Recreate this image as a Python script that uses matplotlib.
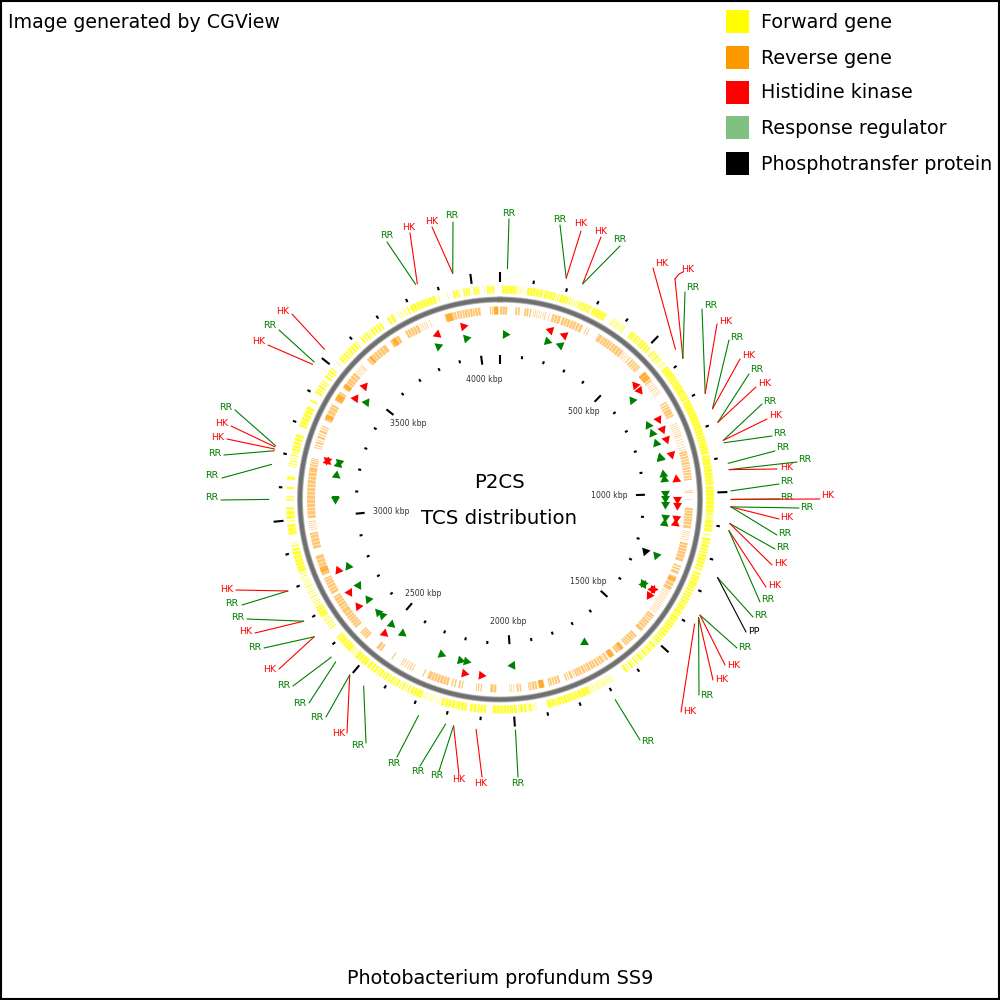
import numpy as np
import matplotlib
matplotlib.use('Agg')
import matplotlib.pyplot as plt
from matplotlib.patches import Rectangle

GENOME_KBP = 4085

# Forward strand genes (start, end in kbp)
forward_genes = [
    (6,13),(14,22),(23,30),(31,40),(41,46),(47,52),(56,58),(62,63.5),(68,70),
    (84,92),(93,101),(102,110),(112,120),(122,133),(138,146),(148,153),(155,163),(165,172),(176,178),(181,185),
    (188,196),(197,206),(208,214),(218,222),(226,229),(234,236),(240,242),(246,249),
    (252,258),(260,266),(268,274),(276,282),(284,289),(295,303),(304,312),(313,322),(323,331),(332,340),
    (362,364),(367,370),(374,376),(380,383),(387,389),(393,395),(400,403),(406,409),
    (432,440),(441,448),(452,460),(463,468),(472,480),(482,490),(493,500),(503,509),
    (520,527),(530,534),(538,545),(549,552),(555,558),(565,567),(570,573),
    (583,591),(592,600),(601,609),(610,618),(620,628),(629,636),(638,645),(647,656),(657,665),(667,675),(676,684),(686,693),(694,702),
    (706,716),(717,726),(727,737),(738,748),(749,758),(759,768),(769,778),(779,789),(790,800),
    (802,811),(812,820),(822,831),(832,840),(842,850),(851,860),(861,870),(871,880),
    (885,894),(895,905),(906,914),(916,925),(926,936),(938,947),(948,957),(958,966),(968,976),
    (980,990),(991,1000),(1001,1012),(1013,1024),(1025,1036),(1037,1048),(1050,1060),(1062,1068),(1071,1074),(1077,1081),(1084,1095),(1097,1108),(1110,1120),
    (1128,1131),(1140,1150),(1152,1158),(1161,1170),(1173,1180),(1183,1189),(1192,1200),(1202,1212),(1214,1222),(1225,1233),(1236,1242),
    (1250,1258),(1261,1268),(1270,1278),(1280,1294),(1296,1302),(1305,1313),(1316,1322),(1325,1332),(1335,1342),(1345,1352),(1354,1360),
    (1362,1370),(1372,1378),(1381,1390),(1392,1398),(1401,1410),(1412,1420),(1423,1431),(1433,1442),(1444,1450),(1453,1462),(1464,1472),(1474,1480),
    (1484,1490),(1493,1500),(1504,1507),(1511,1520),(1523,1527),(1530,1538),(1541,1544),(1548,1556),(1560,1563),(1567,1575),(1579,1582),(1586,1592),(1597,1600),(1604,1612),(1617,1620),(1625,1634),
    (1680,1682),(1686,1688),(1693,1695),(1700,1702),(1707,1710),(1714,1716),(1720,1722),(1727,1730),(1735,1737),(1742,1745),(1750,1752),(1755,1758),
    (1760,1770),(1771,1782),(1784,1795),(1797,1804),(1806,1812),(1814,1822),(1824,1830),(1832,1842),(1844,1850),(1852,1860),(1862,1868),(1870,1880),(1883,1895),
    (1930,1932),(1936,1938),(1944,1952),(1954,1956),(1960,1968),(1971,1980),(1983,1986),(1990,2000),(2002,2012),(2014,2020),(2022,2032),(2034,2042),
    (2044,2052),(2053,2065),(2085,2093),(2095,2103),(2106,2112),(2115,2124),(2127,2136),
    (2145,2153),(2155,2164),(2166,2174),(2176,2180),(2183,2192),(2195,2203),(2205,2213),(2216,2225),
    (2232,2233.5),(2240,2241.5),(2249,2250.5),(2256,2258),(2264,2265.5),(2272,2273.5),(2278,2280),
    (2288,2297),(2298,2306),(2308,2316),(2318,2326),(2330,2336),(2341,2344),(2348,2356),(2361,2364),(2369,2376),(2380,2385),
    (2388,2396),(2399,2404),(2408,2416),(2419,2424),(2428,2436),(2439,2444),(2448,2456),(2459,2466),(2470,2480),
    (2485,2494),(2495,2504),(2506,2514),(2516,2528),(2532,2534),(2538,2540),(2544,2547),
    (2551,2560),(2561,2570),(2572,2580),(2582,2591),(2593,2600),(2602,2609),
    (2640,2644),(2649,2652),(2657,2661),(2667,2670),(2673,2676),(2683,2692),(2693,2702),(2704,2712),(2714,2720),
    (2726,2729),(2734,2737),(2742,2744),(2750,2754),(2760,2762),(2768,2771),(2777,2779),(2785,2789),(2795,2797),(2803,2806),(2812,2814),(2820,2823),(2830,2833),
    (2837,2846),(2847,2856),(2858,2866),(2868,2878),(2880,2890),(2892,2902),(2904,2912),(2918,2922),(2928,2930),
    (2955,2965),(2966,2976),(2978,2988),(2996,2999),(3004,3014),(3016,3028),(3032,3040),(3060,3065),(3070,3074),
    (3096,3103),(3125,3135),(3165,3168),(3172,3176),(3181,3185),(3190,3193),(3198,3202),(3207,3210),(3214,3222),
    (3224,3232),(3235,3243),(3246,3254),(3257,3267),(3291,3299),(3301,3310),(3312,3322),(3324,3334),(3336,3346),(3348,3358),
    (3374,3380),(3404,3412),(3415,3420),(3424,3432),(3436,3440),(3444,3449),(3460,3468),(3472,3476),(3480,3488),(3491,3495),(3517,3519),
    (3530,3537),(3540,3546),(3549,3556),(3559,3564),(3568,3576),(3579,3586),(3590,3597),(3600,3605),
    (3620,3627),(3631,3636),(3640,3648),(3651,3654),(3660,3668),(3671,3678),(3682,3689),(3692,3699),
    (3722,3730),(3734,3744),(3759,3761),(3766,3768),(3774,3776),(3781,3784),(3790,3795),
    (3801,3809),(3810,3820),(3822,3830),(3832,3840),(3842,3850),(3852,3860),(3862,3872),(3874,3883),(3892,3895),(3921,3923),
    (3939,3946),(3949,3955),(3957,3960),(3971,3977),(3979,3985),(3987,3992),(4002,4008),(4010,4015),(4017,4021),(4035,4037),
    (4044,4050),(4052,4058),(4060,4067),
]

# Reverse strand genes (start, end in kbp)
reverse_genes = [
    (0,8),(9,17),(18,25),(53,59),(62,68),(84,90),(92,98),(102,107),(115,117),(121,123),(127,129),(134,136),(141,143),(149,151),(155,158),(168,170),
    (180,188),(190,198),(200,210),(215,224),(226,234),(236,245),(248,256),(258,266),(269,278),(281,290),(303,306),(312,315),(355,365),
    (350,354),(368,376),(378,386),(388,396),(398,405),(408,416),(418,428),(430,440),(442,450),(452,454),(458,460),(465,467),(472,474),(480,484),
    (490,497),(500,506),(509,515),(518,524),(526,530),(550,560),(561,570),(572,582),(584,590),(594,596),(601,603),(608,610),(615,618),(624,626),(632,634),(638,640),
    (675,680),(684,690),(693,700),(702,712),(713,722),(724,730),(755,757),(762,764),(769,771),(776,778),(783,785),(790,792),(796,799),
    (803,805),(812,814),(821,823),(830,832),(840,842),(848,850),
    (855,862),(864,870),(873,880),(883,889),(892,900),(903,908),(911,918),(921,927),(930,937),(940,946),(949,955),(990,993),(996,999),(1020,1021.5),
    (1050,1058),(1060,1067),(1069,1078),(1080,1086),(1088,1097),(1099,1107),(1110,1120),
    (1130,1132),(1136,1138),(1143,1145),(1150,1152),(1158,1160),(1170,1178),(1180,1188),(1190,1199),(1201,1210),(1212,1222),(1224,1235),
    (1250,1256),(1260,1266),(1270,1280),(1290,1300),(1302,1312),(1314,1325),(1327,1340),
    (1345,1347),(1351,1353),(1358,1360),(1365,1367),(1372,1374),(1379,1381),(1386,1388),(1393,1395),(1400,1402),(1407,1409),(1414,1416),(1421,1423),(1428,1430),
    (1440,1447),(1449,1456),(1459,1464),(1467,1476),(1478,1484),(1486,1494),(1497,1510),
    (1530,1538),(1540,1546),(1548,1556),(1558,1564),(1566,1572),(1574,1580),(1590,1600),(1601,1612),(1613,1620),
    (1630,1640),(1641,1650),(1655,1662),(1665,1668),(1671,1680),(1682,1688),(1691,1700),(1703,1710),(1712,1720),(1723,1732),(1735,1740),(1743,1752),(1755,1762),(1764,1770),
    (1772,1778),(1782,1785),(1790,1798),(1803,1806),(1810,1815),(1835,1842),(1845,1852),(1855,1860),(1863,1869),(1871,1875),
    (1890,1910),(1915,1922),(1924,1932),(1935,1940),(1942,1945),(1970,1975),(1979,1985),(1995,1997),(2002,2004),(2008,2010),
    (2055,2063),(2065,2075),(2105,2109),(2114,2118),(2122,2125),(2170,2174),(2179,2185),(2195,2200),(2205,2210),
    (2220,2228),(2230,2238),(2240,2250),(2252,2260),(2262,2270),(2272,2280),(2282,2295),(2308,2312),
    (2350,2353),(2358,2362),(2367,2370),(2376,2379),(2385,2388),(2392,2395),(2428,2432),(2475,2482),(2485,2495),
    (2540,2547),(2549,2555),(2557,2563),(2565,2570),(2590,2598),(2600,2608),(2610,2618),(2620,2628),(2630,2638),(2640,2650),
    (2660,2668),(2670,2678),(2680,2690),(2692,2700),(2702,2712),(2714,2720),(2730,2740),(2742,2750),(2752,2762),(2764,2772),(2774,2782),(2784,2790),
    (2800,2810),(2811,2820),(2822,2832),(2833,2842),(2844,2855),(2857,2870),
    (2895,2905),(2907,2917),(2919,2930),(2932,2941),(2943,2950),(2960,2962),(2967,2969),(2974,2976),(2981,2983),(2987,2990),
    (3000,3010),(3012,3024),(3026,3036),(3038,3050),(3052,3064),(3066,3078),(3080,3090),(3092,3104),(3106,3116),(3118,3130),(3132,3142),(3144,3156),(3158,3175),
    (3178,3184),(3187,3192),(3195,3199),(3202,3205),(3240,3243),(3248,3252),(3257,3263),(3267,3270),(3275,3283),(3287,3291),(3296,3304),(3308,3312),(3316,3320),
    (3340,3352),(3353,3364),(3366,3378),(3380,3390),(3392,3400),(3415,3424),(3425,3433),(3435,3443),(3444,3450),
    (3465,3474),(3475,3484),(3486,3495),(3496,3506),(3508,3518),(3520,3530),(3535,3537),(3542,3544),(3549,3551),(3556,3558),(3562,3565),
    (3590,3598),(3600,3610),(3612,3620),(3622,3632),(3634,3643),(3645,3655),(3657,3670),(3690,3700),(3701,3713),(3714,3725),
    (3750,3758),(3760,3768),(3770,3778),(3780,3788),(3790,3800),(3806,3808),(3813,3815),(3820,3822),(3827,3829),(3840,3842),
    (3895,3905),(3906,3915),(3916,3925),(3927,3934),(3937,3944),(3946,3953),(3956,3962),(3964,3972),(3974,3980),(3982,3990),(3992,3998),(4000,4008),(4010,4018),
    (4050,4054),(4057,4060),(4062,4080),
]

# Where reverse genes overlap, the ring goes full orange
reverse_overlap = [(552,562),(565,578),(1296,1306),(1592,1602),(1632,1646),(1892,1908),(2075,2076),
                   (2652,2660),(2810,2826),(3348,3360),(3420,3440),(3470,3482),(3600,3610),(3698,3712),(3900,3920),(4066,4078)]

# Two component system features: position in kbp, +1 forward, -1 reverse
hk_kbp = [186,242,565,588,715,755,795,852,944,1019,1042,1088,1109,1366,1368,1390,
          2112,2175,2509,2645,2707,2797,3206,3210,3463,3517,3850,3948]
hk_strand = [-1,-1,-1,1,1,1,1,1,-1,1,1,1,-1,1,-1,1,
             -1,-1,-1,1,-1,1,1,-1,1,1,-1,1]
rr_kbp = [19,186,243,600,716,753,795,853,857,920,942,995,1017,1039,1089,1112,1243,1364,1368,1695,1997,
          2177,2200,2281,2456,2509,2560,2579,2643,2710,2795,3064,3159,3205,3213,3471,3835,3949]
rr_strand = [1,1,-1,-1,-1,-1,-1,-1,-1,-1,-1,1,1,1,1,-1,1,1,-1,1,1,
             -1,-1,-1,-1,-1,1,1,1,-1,1,-1,1,1,-1,1,1,1]
pp_kbp = [1241]
pp_strand = [1]

# Callouts: feature position and label, clockwise from the top
callout_kbp = [21,189,189,238,238,561,594,594,711,711,759,759,800,800,853,853,860,919,937,937,997,1021,1021,1042,1042,1042,
               1089,1089,1109,1109,1245,1245,1362,1362,1370,1370,1391,1703,1999,2110,2174,2174,2197,2277,2453,2503,2503,
               2557,2575,2650,2650,2703,2703,2799,2799,3064,3163,3202,3207,3213,3217,3470,3478,3524,3842,3847,3951,3951]
callout_label = ['RR','RR','HK','HK','RR','HK','HK','RR','RR','HK','RR','HK','RR','HK','RR','HK','RR','RR','RR','HK','RR','RR','HK','RR','HK','RR',
                 'RR','HK','HK','RR','RR','PP','RR','HK','HK','RR','HK','RR','RR','HK','HK','RR','RR','RR','RR','HK','RR',
                 'RR','RR','HK','RR','HK','RR','RR','HK','RR','RR','RR','HK','HK','RR','HK','RR','HK','RR','HK','HK','RR']

# Inner and outer scale
major_kbp = [0,500,1000,1500,2000,2500,3000,3500,4000]
minor_kbp = [k for k in range(100, 4085, 100) if k % 500 != 0]
tick_text = ['500 kbp','1000 kbp','1500 kbp','2000 kbp','2500 kbp','3000 kbp','3500 kbp','4000 kbp']

legend_names = ['Forward gene','Reverse gene','Histidine kinase','Response regulator','Phosphotransfer protein']
legend_colors = ['#ffff00','#ff9900','#ff0000','#80c080','#000000']

# Label layout on the page, in pixels
leader_end = [(509,219),(560,225),(581,231),(601,237),(620,246),(653,268),(675,279),(685,292),(702,309),(717,324),
              (729,340),(740,359),(749,374),(756,387),(762,404),(767,419),(772,436),(775,451),(797,462),(777,469),
              (779,484),(780,499),(820,499),(799,508),(779,519),(777,535),(775,549),(772,565),(766,587),(760,602),
              (753,617),(746,632),(737,648),(725,665),(713,680),(699,695),(681,712),(640,740),(518,777),(482,777),
              (459,775),(439,771),(420,766),(397,757),(366,743),(347,733),(326,717),(309,703),(293,686),(279,669),
              (264,648),(255,633),(247,619),(242,605),(236,590),(221,500),(222,478),(224,455),(227,439),(231,426),
              (235,410),(268,345),(279,330),(292,314),(387,242),(410,233),(432,227),(453,222)]
label_pos = [(509,213),(560,219),(581,224),(601,231),(620,239),(662,263),(688,269),(693,288),(711,305),(726,321),
             (737,337),(749,355),(757,370),(765,384),(770,401),(776,416),(780,434),(783,448),(805,459),(787,467),
             (787,482),(787,497),(828,496),(807,507),(787,517),(785,533),(783,547),(781,563),(775,585),(768,600),
             (761,616),(754,631),(745,647),(734,665),(722,679),(707,695),(690,712),(648,741),(518,783),(481,783),
             (459,780),(437,776),(418,771),(394,763),(358,745),(339,733),(317,718),(300,703),(284,686),(270,669),
             (255,648),(246,632),(238,618),(232,604),(227,589),(212,498),(212,476),(215,453),(218,437),(222,423),
             (226,408),(259,341),(270,326),(283,311),(387,236),(409,227),(432,221),(452,216)]
tick_text_pos = [(584,412),(609,496),(588,582),(508,622),(423,593),(391,512),(408,424),(484,379)]
legend_y = [22,58,93,128,164]

label_colors = {'RR':'green','HK':'red','PP':'black'}
FONT = 'DejaVu Sans'


def to_theta(kbp):
    return np.asarray(kbp) / GENOME_KBP * 2 * np.pi


def draw_genes(ax, spans, r0, r1, color, alpha=1.0):
    spans = np.array(spans, dtype=float)
    ax.bar(to_theta(spans[:, 0]), r1 - r0, width=to_theta(spans[:, 1] - spans[:, 0]),
           bottom=r0, align='edge', color=color, linewidth=0, alpha=alpha)


def draw_arrows(ax, kbp, strand, r, color):
    for k, s in zip(kbp, strand):
        bearing = k / GENOME_KBP * 360 + 90 * s
        ax.plot(to_theta(k), r, marker=(3, 0, -bearing), ms=7.4, color=color, mew=0, ls='none')


def draw_ticks(ax, kbp, r0, r1, lw):
    for k in kbp:
        t = to_theta(k)
        ax.plot([t, t], [r0, r1], color='black', lw=lw, solid_capstyle='butt')


fig = plt.figure(figsize=(10, 10), dpi=100, facecolor='white')

# page axes for text and layout, pixel units
page = fig.add_axes([0, 0, 1, 1])
page.set_xlim(0, 1000)
page.set_ylim(1000, 0)
page.axis('off')
page.add_patch(Rectangle((0.5, 0.5), 998, 998, fill=False, ec='black', lw=1.5))

ax = fig.add_axes([0, 0.0005, 1, 1], projection='polar')
ax.set_theta_zero_location('N')
ax.set_theta_direction(-1)
ax.set_ylim(0, 500)
ax.axis('off')
ax.patch.set_alpha(0)

draw_genes(ax, forward_genes, 206, 214, '#ffff00', 0.8)
draw_genes(ax, reverse_genes, 185, 193, '#ff9900', 0.55)
draw_genes(ax, reverse_overlap, 185, 193, '#ff9900', 0.6)

# backbone
ring = np.linspace(0, 2 * np.pi, 1441)
ax.plot(ring, np.full(1441, 200), color='#c4c4c4', lw=4.4)
ax.plot(ring, np.full(1441, 200), color='#999999', lw=3.6)
ax.plot(ring, np.full(1441, 200), color='#6f6f6f', lw=2.6)

draw_ticks(ax, major_kbp, 217.5, 227.5, 1.5)
draw_ticks(ax, minor_kbp, 218, 221.5, 1.5)
draw_ticks(ax, major_kbp, 136, 145, 1.5)
draw_ticks(ax, minor_kbp, 142, 145, 1.5)

draw_arrows(ax, hk_kbp, hk_strand, 177, '#ff0000')
draw_arrows(ax, rr_kbp, rr_strand, 165.5, '#008000')
draw_arrows(ax, pp_kbp, pp_strand, 154, '#000000')

# callouts
for k, lab, end, pos in zip(callout_kbp, callout_label, leader_end, label_pos):
    c = label_colors[lab]
    ax.annotate('', xy=(to_theta(k), 231), xycoords='data', xytext=end, textcoords=page.transData,
                arrowprops=dict(arrowstyle='-', color=c, lw=0.8, shrinkA=0, shrinkB=0))
    page.text(pos[0], pos[1], lab, color=c, fontsize=6.8, family=FONT, ha='center', va='center', zorder=5)
page.plot([675, 679, 683], [279, 274, 272], color='red', lw=0.8)

for s, p in zip(tick_text, tick_text_pos):
    page.text(p[0], p[1], s, color='#333333', fontsize=5.6, family=FONT, ha='center', va='center')

page.text(499, 483, 'P2CS', fontsize=14.2, family=FONT, ha='center', va='center')
page.text(499, 518, 'TCS distribution', fontsize=14.2, family=FONT, ha='center', va='center')
page.text(8, 22, 'Image generated by CGView', fontsize=13.7, family=FONT, ha='left', va='center')
page.text(500, 979, 'Photobacterium profundum SS9', fontsize=13.8, family=FONT, ha='center', va='center')

for y, name, col in zip(legend_y, legend_names, legend_colors):
    page.add_patch(Rectangle((726, y - 12), 23, 23, fc=col, ec='none'))
    page.text(761, y, name, fontsize=13.8, family=FONT, ha='left', va='center')

fig.savefig('out.png', dpi=100)
